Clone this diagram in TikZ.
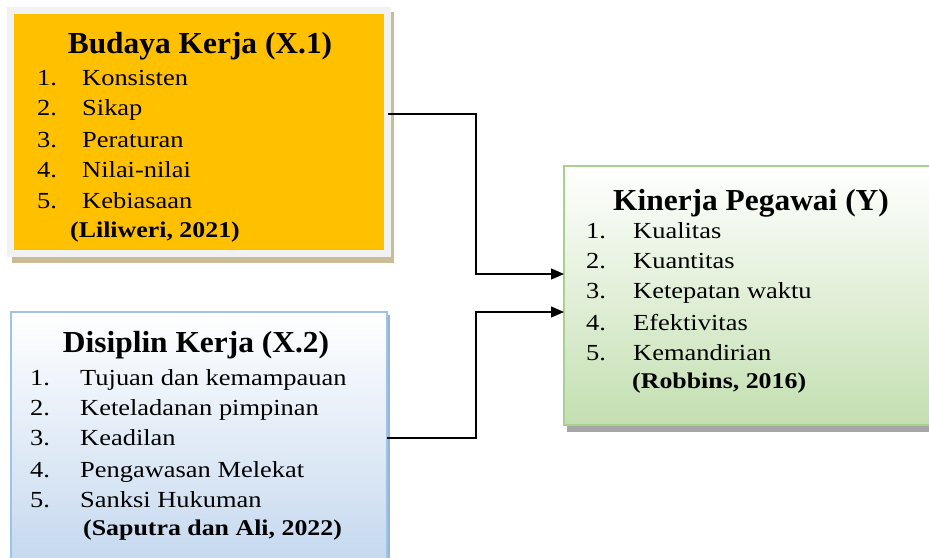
\documentclass[tikz,border=0pt]{standalone}
\usepackage{fontspec}
\setmainfont{Liberation Serif}
\newfontfamily\itemfont[FakeStretch=1.15]{Liberation Serif}
\newfontfamily\headfont[FakeStretch=1.03]{Liberation Serif}
\usetikzlibrary{arrows.meta}
\definecolor{orangefill}{HTML}{FFC000}
\definecolor{framegray}{HTML}{F2F2F2}
\definecolor{tanshadow}{HTML}{C9BD98}
\definecolor{blueborder}{HTML}{9DC3E6}
\definecolor{bluebottom}{HTML}{C3D7EE}
\definecolor{greenborder}{HTML}{A9D18E}
\definecolor{greenbottom}{HTML}{C3DFB0}
\definecolor{grayshadow}{HTML}{A6A6A6}
\begin{document}
\begin{tikzpicture}[x=1pt,y=-1pt,
  boxbase/.style={rectangle,inner sep=0pt,outer sep=0pt,anchor=north west},
  headtxt/.style={anchor=base,inner sep=0pt,font=\headfont\bfseries\fontsize{30.5}{34}\selectfont},
  itemtxt/.style={anchor=base west,inner sep=0pt,font=\itemfont\fontsize{23}{27}\selectfont},
  citetxt/.style={anchor=base west,inner sep=0pt,font=\itemfont\bfseries\fontsize{22.5}{26}\selectfont},
  conn/.style={line width=1.3pt,-{Triangle[length=13pt,width=11pt]}}
]
\useasboundingbox (0,0) rectangle (929,557);
% shadows
\fill[tanshadow] (12,12) rectangle (394,263);
\fill[blueborder!80!gray] (14,315) rectangle (390,580);
\fill[grayshadow] (567,170) rectangle (945,432);
% boxes
\node[boxbase,draw=framegray,line width=7pt,fill=orangefill,
  minimum width=377pt,minimum height=243pt] (b1) at (10.5,10.5) {};
\node[boxbase,draw=blueborder,line width=2pt,top color=white,bottom color=bluebottom,
  minimum width=376pt,minimum height=260pt] (b2) at (11,312) {};
\node[boxbase,draw=greenborder,line width=2pt,top color=white,bottom color=greenbottom,
  minimum width=380pt,minimum height=259pt] (b3) at (564,166) {};
% Budaya Kerja
\node[headtxt] (h1) at (200,53) {Budaya Kerja (X.1)};
\foreach \n/\y/\t in {1/85/Konsisten,2/115/Sikap,3/147/Peraturan,4/177/Nilai-nilai,5/208/Kebiasaan}{
  \node[itemtxt] (a\n) at (37,\y) {\n.};
  \node[itemtxt] (at\n) at (82,\y) {\t};
}
\node[citetxt] (c1) at (70,237) {(Liliweri, 2021)};
% Disiplin Kerja
\node[headtxt] (h2) at (196,352) {Disiplin Kerja (X.2)};
\foreach \n/\y/\t in {1/385/Tujuan dan kemampauan,2/415/Keteladanan pimpinan,3/445/Keadilan,4/477/Pengawasan Melekat,5/507/Sanksi Hukuman}{
  \node[itemtxt] (d\n) at (30,\y) {\n.};
  \node[itemtxt] (dt\n) at (80,\y) {\t};
}
\node[citetxt] (c2) at (83,535) {(Saputra dan Ali, 2022)};
% Kinerja Pegawai
\node[headtxt] (h3) at (751,210) {Kinerja Pegawai (Y)};
\foreach \n/\y/\t in {1/238/Kualitas,2/268/Kuantitas,3/298/Ketepatan waktu,4/330/Efektivitas,5/360/Kemandirian}{
  \node[itemtxt] (k\n) at (586,\y) {\n.};
  \node[itemtxt] (kt\n) at (633,\y) {\t};
}
\node[citetxt] (c3) at (632,388) {(Robbins, 2016)};
% connectors
\coordinate (j1) at (476,114);
\coordinate (j2) at (476,438);
\draw[conn] (b1.east |- j1) -- (j1) |- (b3.west |- 0,274);
\draw[conn] (b2.east |- j2) -- (j2) |- (b3.west |- 0,312);
\end{tikzpicture}
\end{document}
